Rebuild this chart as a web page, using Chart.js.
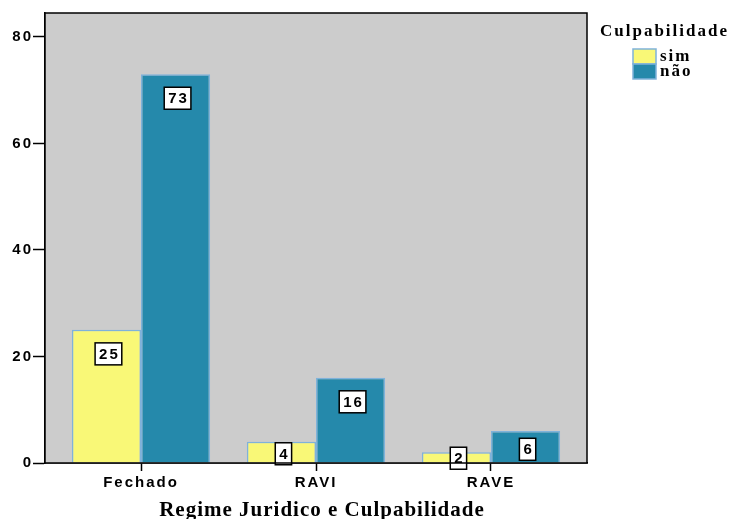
<!DOCTYPE html>
<html>
<head>
<meta charset="utf-8">
<script src="https://cdn.jsdelivr.net/npm/chart.js@4/dist/chart.umd.min.js"></script>
<style>
  body { margin: 0; background: #fff; }
  #wrap { width: 732px; height: 519px; position: relative; }
</style>
</head>
<body>
<div id="wrap"><canvas id="grafico"></canvas></div>
<script>
// Regime jurídico x culpabilidade
const categorias = ['Fechado', 'RAVI', 'RAVE'];
const sim = [25, 4, 2];
const nao = [73, 16, 6];
const ticksY = [0, 20, 40, 60, 80];

const corSim = '#f9f877';
const corNao = '#2589ab';
const corBorda = '#7fb2da';

const sans = '"Liberation Sans", Arial, sans-serif';
const serif = '"Liberation Serif", "Times New Roman", serif';

// espaçamento entre letras usado nos textos dos eixos
const espacamento = {
  id: 'espacamento',
  beforeDraw(chart) {
    chart.ctx.letterSpacing = '2px';
  }
};

// fundo cinza e moldura da área do gráfico
const fundo = {
  id: 'fundo',
  beforeDatasetsDraw(chart) {
    const { ctx, chartArea: a } = chart;
    ctx.save();
    ctx.fillStyle = '#cccccc';
    ctx.fillRect(a.left, a.top, a.right - a.left, a.bottom - a.top);
    ctx.restore();
  },
  afterDraw(chart) {
    const { ctx, chartArea: a } = chart;
    ctx.save();
    ctx.strokeStyle = '#000';
    ctx.lineWidth = 1.5;
    ctx.strokeRect(a.left, a.top, a.right - a.left, a.bottom - a.top);
    ctx.restore();
  }
};

// rótulos com o valor dentro de caixas brancas
const rotulos = {
  id: 'rotulos',
  afterDatasetsDraw(chart) {
    const ctx = chart.ctx;
    ctx.save();
    ctx.font = 'bold 15px ' + sans;
    ctx.textAlign = 'center';
    ctx.textBaseline = 'middle';
    chart.data.datasets.forEach((ds, i) => {
      chart.getDatasetMeta(i).data.forEach((el, j) => {
        const txt = String(ds.data[j].y);
        const h = el.base - el.y;
        const cx = el.x + 2;
        const cy = el.y + Math.min(24, h * 0.58);
        const w = ctx.measureText(txt).width + 6;
        ctx.fillStyle = '#fff';
        ctx.fillRect(cx - w / 2, cy - 11, w, 22);
        ctx.strokeStyle = '#000';
        ctx.lineWidth = 1.5;
        ctx.strokeRect(cx - w / 2, cy - 11, w, 22);
        ctx.fillStyle = '#000';
        ctx.fillText(txt, cx + 1, cy + 1);
      });
    });
    ctx.restore();
  }
};

// legenda à direita e título do eixo x
const legenda = {
  id: 'legenda',
  afterDraw(chart) {
    const ctx = chart.ctx;
    ctx.save();
    ctx.fillStyle = '#000';
    ctx.textBaseline = 'alphabetic';
    ctx.textAlign = 'left';
    ctx.font = 'bold 17px ' + serif;
    ctx.fillText('Culpabilidade', 600, 36);
    ctx.font = 'bold 17px ' + serif;
    ctx.textBaseline = 'middle';
    chart.data.datasets.forEach((ds, i) => {
      const y = 49 + i * 15;
      ctx.fillStyle = ds.backgroundColor;
      ctx.fillRect(633, y, 23, 15);
      ctx.strokeStyle = corBorda;
      ctx.lineWidth = 1.5;
      ctx.strokeRect(633, y, 23, 15);
      ctx.fillStyle = '#000';
      ctx.fillText(ds.label, 660, y + 8);
    });
    ctx.letterSpacing = '1px';
    ctx.textAlign = 'center';
    ctx.textBaseline = 'alphabetic';
    ctx.font = 'bold 21px ' + serif;
    ctx.fillText('Regime Juridico e Culpabilidade', 322, 516);
    ctx.restore();
  }
};

new Chart(document.getElementById('grafico'), {
  type: 'bar',
  data: {
    datasets: [
      {
        label: 'sim',
        data: sim.map((v, i) => ({ x: i, y: v })),
        backgroundColor: corSim,
        borderColor: corBorda,
        borderWidth: 1.5
      },
      {
        label: 'não',
        data: nao.map((v, i) => ({ x: i, y: v })),
        backgroundColor: corNao,
        borderColor: corBorda,
        borderWidth: 1.5
      }
    ]
  },
  options: {
    responsive: true,
    maintainAspectRatio: false,
    animation: false,
    categoryPercentage: 0.79,
    barPercentage: 1,
    layout: { padding: { left: 0, top: 13, right: 145, bottom: 0 } },
    scales: {
      x: {
        type: 'linear',
        offset: false,
        min: -0.5486,
        max: 2.5486,
        afterBuildTicks(scale) {
          scale.ticks = categorias.map((c, i) => ({ value: i }));
        },
        afterFit(scale) { scale.height = 56; },
        ticks: {
          callback: (v) => categorias[v],
          color: '#000',
          font: { family: sans, size: 15, weight: 'bold' },
          padding: 3,
          maxRotation: 0
        },
        grid: { offset: false, drawOnChartArea: false, tickLength: 8, color: '#000', tickWidth: 1.5 },
        border: { color: '#000', width: 1.5 }
      },
      y: {
        min: 0,
        max: 84.5,
        afterBuildTicks(scale) {
          scale.ticks = ticksY.map(v => ({ value: v }));
        },
        afterFit(scale) { scale.width = 45; },
        ticks: {
          color: '#000',
          font: { family: sans, size: 15, weight: 'bold' },
          padding: 0
        },
        grid: { drawOnChartArea: false, tickLength: 12, color: '#000', tickWidth: 1.5 },
        border: { color: '#000', width: 1.5 }
      }
    },
    plugins: {
      legend: { display: false },
      tooltip: { enabled: false }
    }
  },
  plugins: [espacamento, fundo, rotulos, legenda]
});
</script>
</body>
</html>
